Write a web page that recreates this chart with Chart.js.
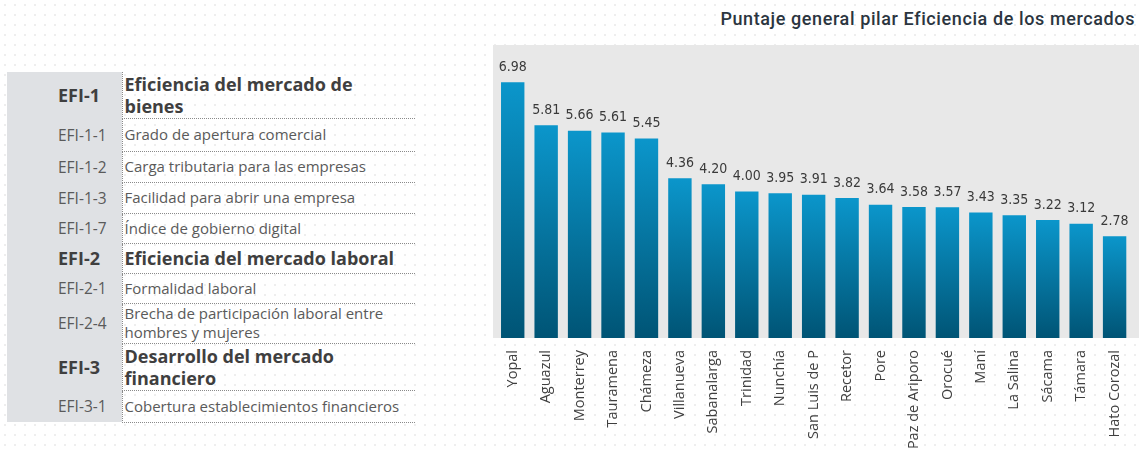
<!DOCTYPE html>
<html>
<head>
<meta charset="utf-8">
<script src="https://cdn.jsdelivr.net/npm/chart.js@4.4.0/dist/chart.umd.min.js"></script>
<style>
  html, body { margin: 0; padding: 0; width: 1139px; height: 453px; overflow: hidden; }
  body {
    background-color: #fff;
    background-image: radial-gradient(#eeeeee 0.8px, transparent 1px);
    background-size: 10px 10px;
    font-family: "Open Sans", sans-serif;
    position: relative;
  }
  #pillars { position: absolute; left: 7px; top: 72px; border-collapse: collapse; }
  #pillars td { padding: 0; vertical-align: middle; white-space: nowrap; }
  #pillars td.code { width: 115px; background: #dfe1e4; color: #5a5a5a; font-size: 15.5px; padding-left: 51px; box-sizing: border-box; }
  #pillars td.name { width: 290px; color: #5a5a5a; font-size: 15px; line-height: 19px; padding-left: 2px;
                     border-left: 1px dotted #8a8a8a; border-bottom: 1px dotted #8a8a8a; }
  #pillars tr.head td { font-weight: 700; color: #3f3f3f; font-size: 18px; line-height: 22px; }
  #title { position: absolute; right: 4px; top: 8px; font-family: Roboto, sans-serif;
           font-size: 18px; font-weight: 500; color: #2b3540; letter-spacing: 0.6px; }
  #plotbg { position: absolute; left: 493px; top: 45px; width: 646px; height: 293px; background: #e8e8e8; }
  #wrap { position: absolute; left: 496px; top: 45px; width: 648px; height: 440px; }
</style>
</head>
<body>
<table id="pillars"></table>
<div id="title">Puntaje general pilar Eficiencia de los mercados</div>
<div id="plotbg"></div>
<div id="wrap"><canvas id="c"></canvas></div>
<script>
// left panel: pillar / indicator list
const codes = ['EFI-1', 'EFI-1-1', 'EFI-1-2', 'EFI-1-3', 'EFI-1-7', 'EFI-2', 'EFI-2-1', 'EFI-2-4', 'EFI-3', 'EFI-3-1'];
const names = ['Eficiencia del mercado de<br>bienes', 'Grado de apertura comercial', 'Carga tributaria para las empresas',
  'Facilidad para abrir una empresa', 'Índice de gobierno digital', 'Eficiencia del mercado laboral', 'Formalidad laboral',
  'Brecha de participación laboral entre<br>hombres y mujeres', 'Desarrollo del mercado<br>financiero',
  'Cobertura establecimientos financieros'];
const rowHeights = [46, 33, 31, 31, 30, 30, 30, 40, 47, 32];

// bar chart data
const categories = ['Yopal', 'Aguazul', 'Monterrey', 'Tauramena', 'Chámeza', 'Villanueva', 'Sabanalarga', 'Trinidad',
  'Nunchía', 'San Luis de P', 'Recetor', 'Pore', 'Paz de Ariporo', 'Orocué', 'Maní', 'La Salina', 'Sácama', 'Támara',
  'Hato Corozal'];
const scores = [6.98, 5.81, 5.66, 5.61, 5.45, 4.36, 4.20, 4.00, 3.95, 3.91, 3.82, 3.64, 3.58, 3.57, 3.43, 3.35, 3.22,
  3.12, 2.78];

const table = document.getElementById('pillars');
codes.forEach((code, i) => {
    const tr = document.createElement('tr');
    if (code.split('-').length === 2) tr.className = 'head';
    tr.style.height = rowHeights[i] + 'px';
    tr.innerHTML = `<td class="code">${code}</td><td class="name">${names[i]}</td>`;
    table.appendChild(tr);
});

// value labels over each bar
const valueLabels = {
    id: 'valueLabels',
    afterDatasetsDraw(chart) {
        const ctx = chart.ctx;
        ctx.save();
        ctx.font = '14px "Liberation Sans Narrow", "DejaVu Sans Condensed", sans-serif';
        ctx.fillStyle = '#3a3a3a';
        ctx.textAlign = 'center';
        ctx.textBaseline = 'bottom';
        chart.getDatasetMeta(0).data.forEach((bar, i) => {
            ctx.fillText(scores[i].toFixed(2), bar.x, bar.y - 8);
        });
        ctx.restore();
    }
};

new Chart(document.getElementById('c'), {
    type: 'bar',
    data: {
        labels: categories,
        datasets: [{
            data: scores,
            barPercentage: 0.7,
            categoryPercentage: 1,
            backgroundColor: (context) => {
                const chart = context.chart;
                const y = chart.scales.y;
                if (!chart.chartArea || !y) return '#0a88b8';
                const top = y.getPixelForValue(context.raw);
                const bottom = y.getPixelForValue(0);
                const g = chart.ctx.createLinearGradient(0, top, 0, bottom);
                g.addColorStop(0, '#0b96cb');
                g.addColorStop(1, '#005475');
                return g;
            }
        }]
    },
    options: {
        responsive: true,
        maintainAspectRatio: false,
        animation: false,
        layout: { padding: 0 },
        plugins: { legend: { display: false }, tooltip: { enabled: false } },
        scales: {
            y: { display: false, min: 0, max: 8 },
            x: {
                grid: { display: false, drawTicks: false },
                border: { display: false },
                ticks: {
                    color: '#404040',
                    font: { family: 'Open Sans', size: 14.5 },
                    padding: 12,
                    minRotation: 90,
                    maxRotation: 90,
                    autoSkip: false
                },
                afterFit(scale) { scale.height = 147; }
            }
        }
    },
    plugins: [valueLabels]
});
</script>
</body>
</html>
